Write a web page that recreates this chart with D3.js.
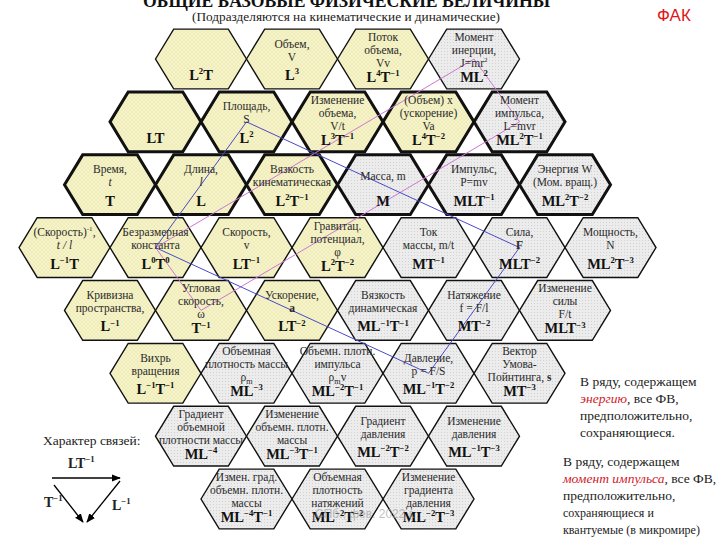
<!DOCTYPE html>
<html><head><meta charset="utf-8">
<script src="https://cdn.jsdelivr.net/npm/d3@7"></script>
<style>body{margin:0;background:#fff}svg{display:block}</style>
</head><body>
<svg id="c" width="720" height="540"></svg>
<script>
// ---------- DATA ----------
const titleText = "ОБЩИЕ БАЗОВЫЕ ФИЗИЧЕСКИЕ ВЕЛИЧИНЫ";
const subtitleText = "(Подразделяются на кинематические и динамические)";
const cornerText = "ФАК";

// hex cells: id, name lines (| = new line), dimension formula, row, column, kind (k = kinematic, d = dynamic)
const hexIds = ["L2T","V","Vv","J","LT","S","dV","Va","Lm","t","l","nuK","m","P","W","invV","one","v","phi","mt","F","N","curv","omega","a","eta","f","dF","rot","rho","rhov","p","Sv","gRho","dRho","gP","dP","dgRho","sig","dgP"];
const hexNames = [
 "", "Объем,|V", "Поток|объема,|Vv", "Момент|инерции,|J=mr^{2}",
 "", "Площадь,|S", "Изменение|объема,|V/t", "(Объем) x|(ускорение)|Va", "Момент|импульса,|L=mvr",
 "Время,|*t*", "Длина,|*l*", "Вязкость|кинематическая", "Масса, m", "Импульс,|P=mv", "Энергия W|(Мом. вращ.)",
 "(Скорость)^{-1},|*t / l*", "Безразмерная|константа", "Скорость,|v", "Гравитац.|потенциал,|φ", "Ток|массы, m/t", "Сила,|**F**", "Мощность,|N",
 "Кривизна|пространства,", "Угловая|скорость,|ω", "Ускорение,|**a**", "Вязкость|динамическая", "Натяжение|f = F/l", "Изменение|силы|F/t",
 "Вихрь|вращения", "Объемная|плотность массы|ρ_{m}", "Объемн. плотн.|импульса|ρ_{m}v", "Давление,|p = F/S", "Вектор|Умова-|Пойнтинга, **s**",
 "Градиент|объемной|плотности массы", "Изменение|объемн. плотн.|массы", "Градиент|давления", "Изменение|давления",
 "Измен. град.|объемн. плотн.|массы", "Объемная|плотность|натяжений", "Изменение|градиента|давления"
];
const hexFormulas = [
 "L^{2}T", "L^{3}", "L^{4}T^{−1}", "ML^{2}",
 "LT", "L^{2}", "L^{3}T^{−1}", "L^{4}T^{−2}", "ML^{2}T^{−1}",
 "T", "L", "L^{2}T^{−1}", "M", "MLT^{−1}", "ML^{2}T^{−2}",
 "L^{−1}T", "L^{0}T^{0}", "LT^{−1}", "L^{2}T^{−2}", "MT^{−1}", "MLT^{−2}", "ML^{2}T^{−3}",
 "L^{−1}", "T^{−1}", "LT^{−2}", "ML^{−1}T^{−1}", "MT^{−2}", "MLT^{−3}",
 "L^{−1}T^{−1}", "ML^{−3}", "ML^{−2}T^{−1}", "ML^{−1}T^{−2}", "MT^{−3}",
 "ML^{−4}", "ML^{−3}T^{−1}", "ML^{−2}T^{−2}", "ML^{−1}T^{−3}",
 "ML^{−4}T^{−1}", "ML^{−2}T^{−2}", "ML^{−2}T^{−3}"
];
const hexRows = [1,1,1,1, 2,2,2,2,2, 3,3,3,3,3,3, 4,4,4,4,4,4,4, 5,5,5,5,5,5, 6,6,6,6,6, 7,7,7,7, 8,8,8];
const hexCols = [4,6,8,10, 3,5,7,9,11, 2,4,6,8,10,12, 1,3,5,7,9,11,13, 2,4,6,8,10,12, 3,5,7,9,11, 4,6,8,10, 5,7,9];
const hexKinds = ["k","k","k","d", "k","k","k","k","d", "k","k","k","d","d","d", "k","k","k","k","d","d","d", "k","k","k","d","d","d", "k","d","d","d","d", "d","d","d","d", "d","d","d"];
const boldRows = [2,3];

// relation lines (parallelograms): from, to, colour group
const linkFrom = ["one","J","one","omega", "one","S","one","p"];
const linkTo   = ["J","Lm","omega","Lm", "S","F","p","F"];
const linkKind = ["pink","pink","pink","pink", "blue","blue","blue","blue"];

const noteLines1 = ["В ряду, содержащем", "*энергию*, все ФВ,", "предположительно,", "сохраняющиеся."];
const noteLines2 = ["В ряду, содержащем", "*момент импульса*, все ФВ,", "предположительно,", "сохраняющиеся и", "квантуемые (в микромире)"];
const legendTitle = "Характер связей:";
const legendLabels = ["LT^{−1}", "T^{−1}", "L^{−1}"];
const watermark = "СПб., фев. 2022 г.";

// ---------- DRAW ----------
const svg = d3.select("#c");
const serif = "'Liberation Serif','DejaVu Serif',serif";
const x = d3.scaleLinear().domain([0,14]).range([19,656]);
const y = d3.scaleLinear().domain([1,8]).range([59,499]);
const hw = x(1)-x(0), hh = (y(2)-y(1))*0.475, te = hw*0.6;

const defs = svg.append("defs");
const py = defs.append("pattern").attr("id","py").attr("width",4).attr("height",4).attr("patternUnits","userSpaceOnUse");
py.append("rect").attr("width",4).attr("height",4).attr("fill","#f6f4c8");
py.append("path").attr("d","M0,0L4,4M4,0L0,4").attr("stroke","#e9e5b0").attr("stroke-width",0.6);
const pg = defs.append("pattern").attr("id","pg").attr("width",3).attr("height",3).attr("patternUnits","userSpaceOnUse");
pg.append("rect").attr("width",3).attr("height",3).attr("fill","#ececec");
pg.append("rect").attr("width",1).attr("height",1).attr("fill","#d2d2d2");
const mk = defs.append("marker").attr("id","arr").attr("viewBox","0 0 10 10").attr("refX",9).attr("refY",5)
  .attr("markerWidth",7).attr("markerHeight",7).attr("orient","auto");
mk.append("path").attr("d","M0,1L10,5L0,9Z").attr("fill","#000");

function rich(textSel, str, size, baseWeight, colorAlt, supRatio){
  const sr = supRatio || 0.62;
  const re = /\^\{([^}]*)\}|_\{([^}]*)\}|\*\*([^*]+)\*\*|\*([^*]+)\*|([^\^_*]+)/g;
  let m, cur = 0;
  while((m = re.exec(str)) !== null){
    let txt, target = 0, fs = size, weight = baseWeight, style = "normal", fill = null;
    if(m[1] !== undefined){ txt = m[1]; target = -size*0.4; fs = size*sr; }
    else if(m[2] !== undefined){ txt = m[2]; target = size*0.22; fs = size*0.7; }
    else if(m[3] !== undefined){ txt = m[3]; weight = "bold"; }
    else if(m[4] !== undefined){ txt = m[4]; style = "italic"; fill = colorAlt || null; }
    else txt = m[5];
    const ts = textSel.append("tspan").text(txt).attr("font-size",fs).attr("font-weight",weight).attr("font-style",style);
    if(fill) ts.attr("fill",fill);
    if(target !== cur){ ts.attr("dy", target-cur); cur = target; }
  }
}

const hexData = hexIds.map((id,i)=>({id, name:hexNames[i], f:hexFormulas[i], r:hexRows[i], c:hexCols[i], k:hexKinds[i]}));
const byId = {}; hexData.forEach(d=>{ d.cx = x(d.c); d.cy = y(d.r); byId[d.id]=d; });

const hexPath = d => {
  const cx=d.cx, cy=d.cy;
  return `M${cx-hw},${cy}L${cx-te},${cy-hh}L${cx+te},${cy-hh}L${cx+hw},${cy}L${cx+te},${cy+hh}L${cx-te},${cy+hh}Z`;
};

const gHex = svg.append("g");
gHex.selectAll("path").data(hexData).join("path")
  .attr("d",hexPath)
  .attr("fill",d=>d.k==="k"?"url(#py)":"url(#pg)")
  .attr("stroke","#111")
  .attr("stroke-linejoin","miter")
  .attr("stroke-width",d=>boldRows.includes(d.r)?3:1.4);

// relation lines
const gLinks = svg.append("g");
linkFrom.forEach((a,i)=>{
  const A = byId[a], B = byId[linkTo[i]];
  gLinks.append("line").attr("x1",A.cx).attr("y1",A.cy).attr("x2",B.cx).attr("y2",B.cy)
    .attr("stroke", linkKind[i]==="pink" ? "#cc77d4" : "#4a4ac8").attr("stroke-width",1);
});

// texts
const gText = svg.append("g").attr("font-family",serif).attr("text-anchor","middle").attr("fill","#2a2a2a");
hexData.forEach(d=>{
  const lines = d.name ? d.name.split("|") : [];
  const n = lines.length;
  const c0 = d.cy - 5 - (n-1)*6.5;
  lines.forEach((ln,j)=>{
    const t = gText.append("text").attr("x",d.cx).attr("y",c0 + j*13);
    rich(t, ln, 11.5, "normal");
  });
  let fy = d.cy + 21;
  if(n>=3) fy = Math.max(fy, c0 + (n-1)*13 + 15);
  const tf = gText.append("text").attr("x",d.cx).attr("y",fy).attr("fill","#111");
  rich(tf, d.f, 14.5, "bold", null, 0.6);
});

// title
svg.append("text").attr("x",143).attr("y",7).attr("font-family",serif)
  .attr("font-weight","bold").attr("font-size",19).attr("fill","#111")
  .attr("textLength",407).attr("lengthAdjust","spacingAndGlyphs").text(titleText);
svg.append("text").attr("x",192).attr("y",21).attr("font-family",serif)
  .attr("font-size",13.3).attr("fill","#222").attr("textLength",308).attr("lengthAdjust","spacingAndGlyphs").text(subtitleText);
svg.append("text").attr("x",657).attr("y",21).attr("font-family","'Liberation Sans',Arial,sans-serif")
  .attr("font-size",17).attr("fill","#e01818").text(cornerText);

// notes
const gN = svg.append("g").attr("font-family",serif).attr("fill","#222");
noteLines1.forEach((s,i)=>{ const t=gN.append("text").attr("x",580).attr("y",386+i*17); rich(t,s,13.5,"normal","#d0202a"); });
noteLines2.forEach((s,i)=>{ const t=gN.append("text").attr("x",563).attr("y",466+i*17); rich(t,s,i>=3?12:13.5,"normal","#d0202a"); });

// legend
const gL = svg.append("g").attr("font-family",serif).attr("fill","#222");
gL.append("text").attr("x",43).attr("y",445).attr("font-size",13.5).text(legendTitle);
const l0 = gL.append("text").attr("x",68).attr("y",468); rich(l0, legendLabels[0], 14, "bold");
const l1 = gL.append("text").attr("x",44).attr("y",507); rich(l1, legendLabels[1], 14, "bold");
const l2 = gL.append("text").attr("x",112).attr("y",510); rich(l2, legendLabels[2], 14, "bold");
const arrows = [[52,478,120,478],[54,485,83,522],[120,481,87,522]];
gL.selectAll("line").data(arrows).join("line")
  .attr("x1",d=>d[0]).attr("y1",d=>d[1]).attr("x2",d=>d[2]).attr("y2",d=>d[3])
  .attr("stroke","#000").attr("stroke-width",1.3).attr("marker-end","url(#arr)");

svg.append("text").attr("x",315).attr("y",518).attr("font-family","'Liberation Sans',sans-serif")
  .attr("font-size",12).attr("fill","#999").attr("opacity",0.6).text(watermark);
</script>
</body></html>
